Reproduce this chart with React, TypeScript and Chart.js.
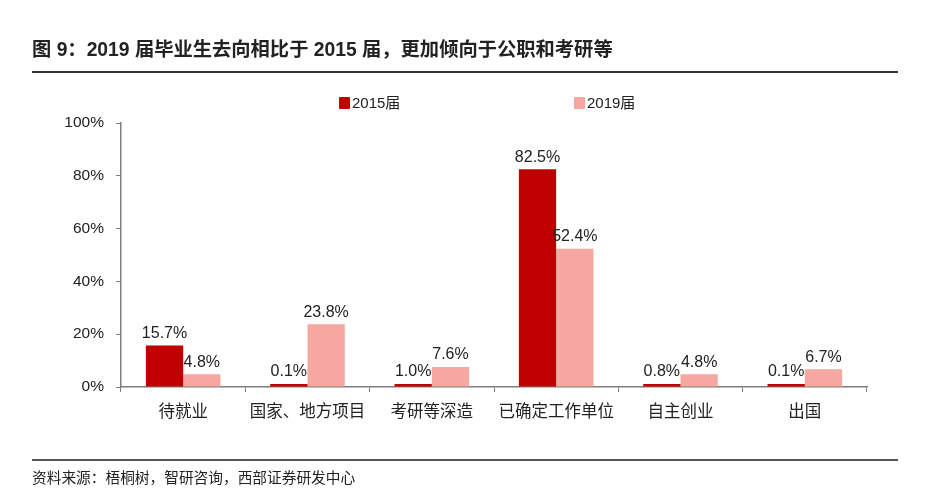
import React, { useEffect, useRef } from "react";
import { Chart, registerables } from "chart.js";

Chart.register(...registerables);

const categories = ["待就业", "国家、地方项目", "考研等深造", "已确定工作单位", "自主创业", "出国"];
const series2015 = [15.7, 0.1, 1.0, 82.5, 0.8, 0.1];
const series2019 = [4.8, 23.8, 7.6, 52.4, 4.8, 6.7];
const seriesNames = ["2015届", "2019届"];
const yTicks = [0, 20, 40, 60, 80, 100];

const RED = "#C00000";
const PINK = "#F5A7A0";
const FONT = '"Liberation Sans", Arial, "Noto Sans CJK SC", sans-serif';

const labelPlugin = {
  id: "barLabels",
  afterDatasetsDraw(chart: any) {
    const ctx = chart.ctx;
    ctx.save();
    ctx.font = `16px ${FONT}`;
    ctx.fillStyle = "#222";
    ctx.textAlign = "center";
    ctx.textBaseline = "bottom";
    chart.data.datasets.forEach((ds: any, di: number) => {
      const meta = chart.getDatasetMeta(di);
      meta.data.forEach((el: any, i: number) => {
        ctx.fillText(ds.data[i].toFixed(1) + "%", el.x, el.y - 4);
      });
    });
    ctx.restore();
  },
};

export default function App() {
  const ref = useRef<HTMLCanvasElement>(null);
  useEffect(() => {
    if (!ref.current) return;
    const chart = new Chart(ref.current, {
      type: "bar",
      data: {
        labels: categories,
        datasets: [
          { label: seriesNames[0], data: series2015, backgroundColor: RED, minBarLength: 3 },
          { label: seriesNames[1], data: series2019, backgroundColor: PINK, minBarLength: 3 },
        ],
      },
      options: {
        responsive: false,
        animation: false,
        events: [],
        layout: { padding: { top: 123, right: 68, left: 0, bottom: 0 } },
        datasets: { bar: { categoryPercentage: 0.6, barPercentage: 1.0 } },
        plugins: { legend: { display: false }, tooltip: { enabled: false } },
        scales: {
          x: {
            afterFit: (s: any) => { s.height = 115; },
            grid: { offset: true, drawOnChartArea: false, drawTicks: true, tickLength: 5, color: "#7f7f7f" },
            border: { display: true, color: "#7f7f7f", width: 1.5 },
            ticks: { color: "#222", padding: 11, font: { size: 16.5, family: FONT }, maxRotation: 0 },
          },
          y: {
            min: 0,
            max: 100,
            afterFit: (s: any) => { s.width = 121; },
            afterBuildTicks: (s: any) => { s.ticks = yTicks.map((v) => ({ value: v })); },
            grid: { drawOnChartArea: false, drawTicks: true, tickLength: 5, color: "#7f7f7f" },
            border: { display: true, color: "#7f7f7f", width: 1.5 },
            ticks: { color: "#222", padding: 12, font: { size: 15.5, family: FONT }, callback: (v: any) => v + "%" },
          },
        },
      },
      plugins: [labelPlugin],
    });
    return () => chart.destroy();
  }, []);

  const text = { position: "absolute" as const, fontFamily: FONT, color: "#222", whiteSpace: "nowrap" as const };

  return (
    <div style={{ position: "absolute", left: 0, top: 0, width: 935, height: 502, background: "#fff" }}>
      <canvas ref={ref} width={935} height={502} style={{ position: "absolute", left: 0, top: 0 }} />
      <div style={{ ...text, left: 32, top: 38, fontSize: 19.3, fontWeight: "bold", lineHeight: "24px" }}>
        图 9：2019 届毕业生去向相比于 2015 届，更加倾向于公职和考研等
      </div>
      <div style={{ position: "absolute", left: 32, top: 71, width: 866, height: 2, background: "#333" }} />
      <div style={{ position: "absolute", left: 339, top: 97, width: 11, height: 12, background: RED, borderRadius: 1 }} />
      <div style={{ ...text, left: 352, top: 94, fontSize: 15, lineHeight: "18px" }}>{seriesNames[0]}</div>
      <div style={{ position: "absolute", left: 574, top: 97, width: 11, height: 12, background: PINK, borderRadius: 1 }} />
      <div style={{ ...text, left: 587, top: 94, fontSize: 15, lineHeight: "18px" }}>{seriesNames[1]}</div>
      <div style={{ position: "absolute", left: 32, top: 459, width: 866, height: 2, background: "#555" }} />
      <div style={{ ...text, left: 32, top: 469, fontSize: 14.7, lineHeight: "18px" }}>
        资料来源：梧桐树，智研咨询，西部证券研发中心
      </div>
    </div>
  );
}
